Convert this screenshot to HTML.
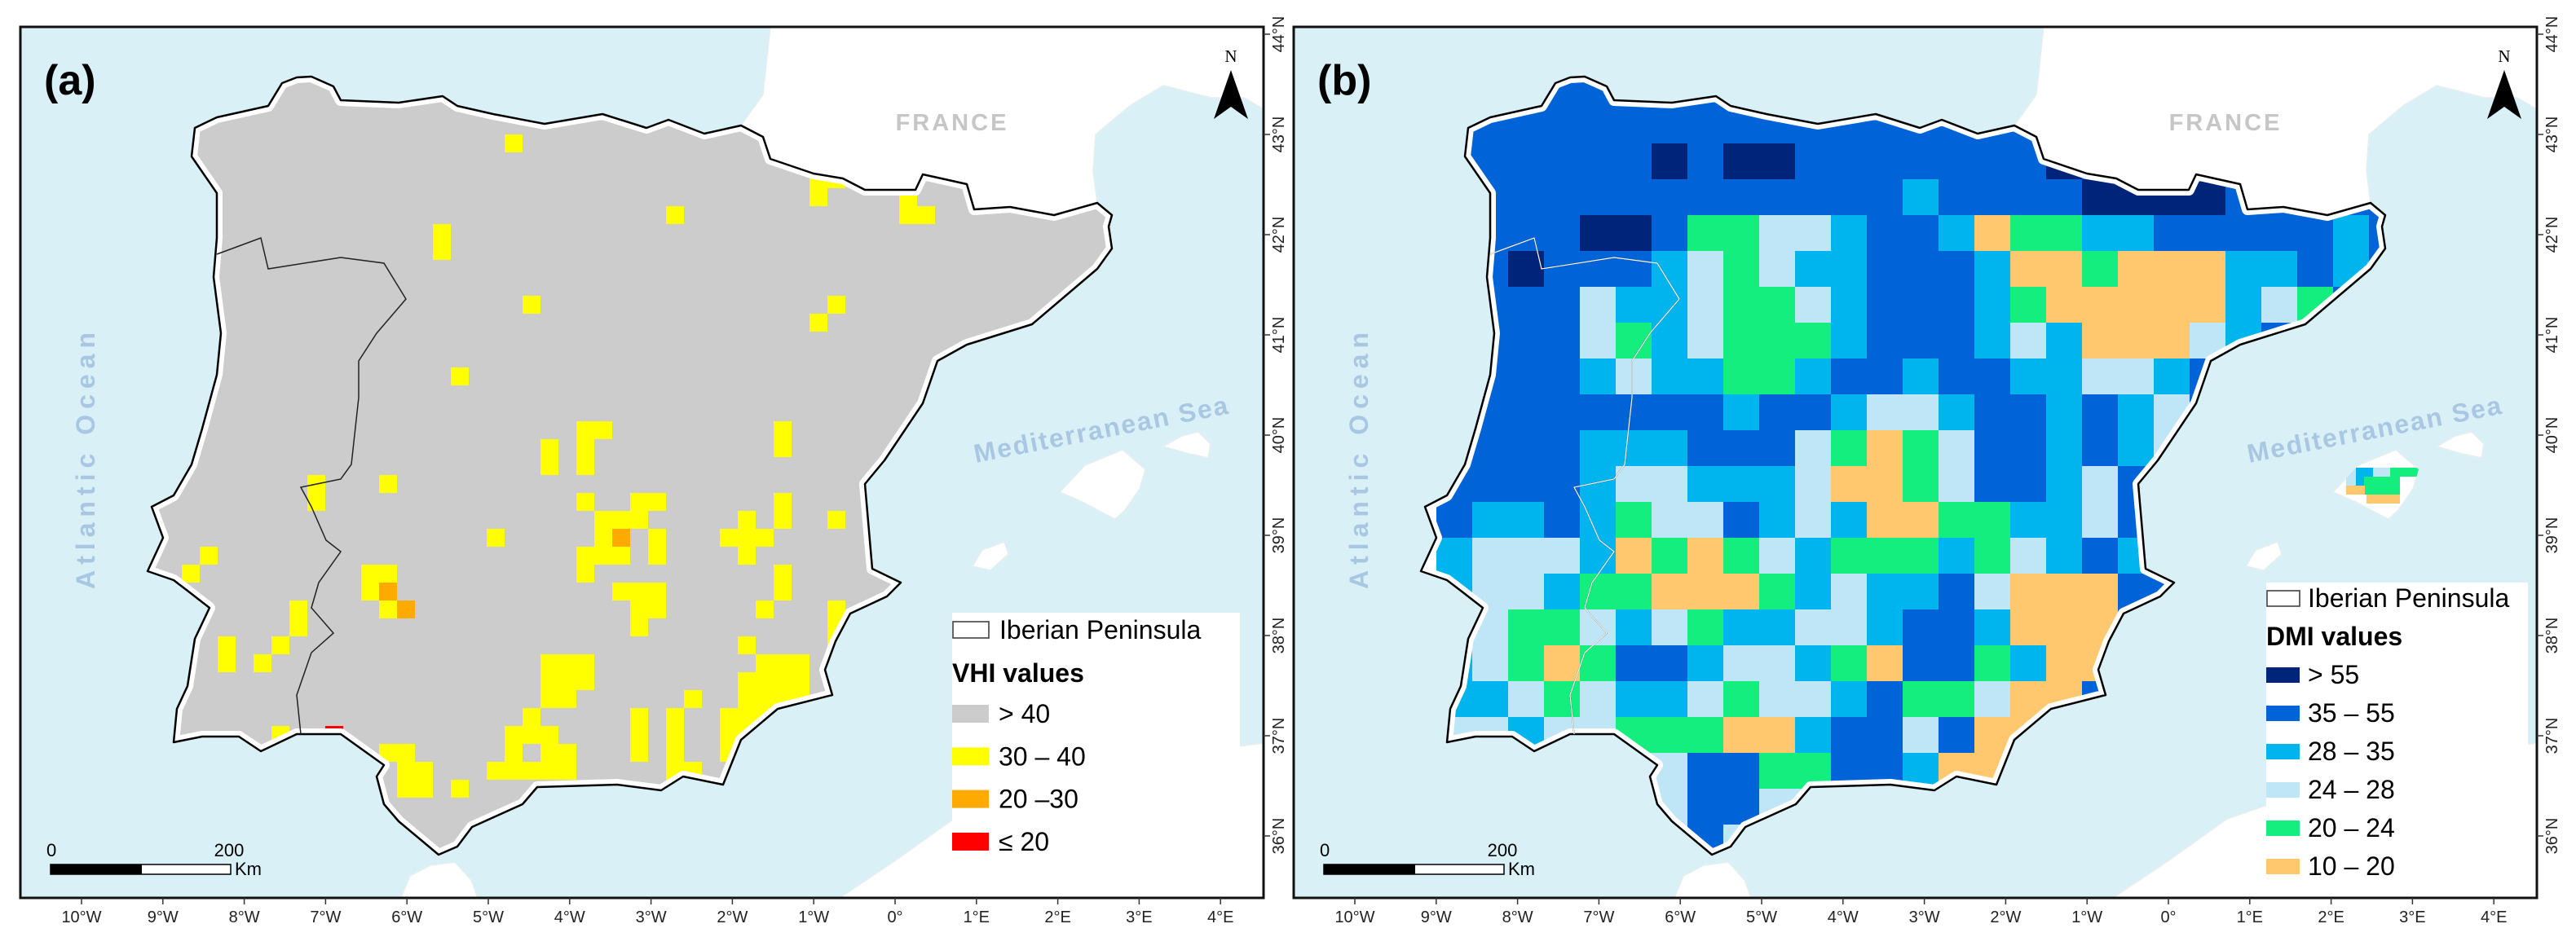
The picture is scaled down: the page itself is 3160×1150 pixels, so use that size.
<!DOCTYPE html>
<html><head><meta charset="utf-8"><title>VHI and DMI maps of the Iberian Peninsula</title>
<style>
html,body{margin:0;padding:0;background:#fff;}
svg{display:block;font-family:"Liberation Sans",Arial,sans-serif;}
</style></head>
<body>
<svg id="fig" width="3160" height="1150" viewBox="0 0 3160 1150" xmlns="http://www.w3.org/2000/svg">
<defs id="defs"></defs>
<g id="root"></g>
</svg>
<script>
// ---------- DATA ----------
const vhiYellow = [[16,25],[20,25],[16,26],[31,26],[34,26],[35,26],[34,27],[32,27],[33,27],[32,28],[26,28],[35,28],[35,29],[31,29],[32,29],[33,29],[40,27],[40,28],[40,29],[39,28],[41,28],[42,26],[42,27],[45,27],[10,29],[9,30],[19,30],[19,31],[20,30],[20,32],[31,30],[33,31],[34,31],[35,31],[34,32],[35,32],[34,33],[42,30],[42,31],[41,32],[15,32],[15,33],[11,34],[14,34],[13,35],[11,35],[45,32],[45,33],[46,33],[45,34],[46,34],[40,34],[41,35],[42,35],[43,35],[41,36],[42,36],[43,36],[40,36],[29,35],[30,35],[31,35],[29,36],[30,36],[31,36],[29,37],[30,37],[37,37],[40,37],[41,37],[42,37],[43,37],[40,38],[41,38],[28,38],[29,39],[27,39],[28,39],[34,38],[34,39],[34,40],[36,38],[36,39],[39,38],[39,39],[40,39],[39,40],[40,40],[14,39],[27,40],[26,41],[27,41],[28,41],[29,40],[30,40],[29,41],[30,41],[36,40],[37,41],[36,41],[41,42],[41,43],[20,40],[21,40],[21,41],[22,41],[21,42],[22,42],[24,42],[27,6],[23,11],[23,12],[36,10],[28,15],[45,15],[44,16],[24,19],[42,22],[42,23],[31,22],[32,22],[31,23],[29,23],[29,24],[31,24],[44,8],[45,8],[44,9],[49,9],[49,10],[50,10]];
const vhiOrange = [[20,31],[21,32],[33,28],[46,35]];
const vhiRed = [[17,39],[46,36]];
const dmiRows = [
"444444444444444444444444444",
"444444444444444444444444444",
"444444545544444445444444444",
"444444444444434444555544444",
"444455411223443011334444434",
"445444321233444300100033434",
"444423321123444310000032144",
"444421321113444323000234444",
"444432331134434433223444444",
"444444443443223443432444444",
"444433344421012443432444444",
"444432233320012443244444444",
"433431224323001133244444444",
"322230101231113123434444444",
"322311000132334200044444444",
"321123213322344300044444444",
"321014432231044130044444444",
"332123321223411200444444444",
"223221110034424004444444444",
"222222244114430044444444444",
"222222244222222222222222222",
"222222242222222222222222222"];
const vhiLegendLabels = ["> 40","30 \u2013 40","20 \u201330","\u2264 20"];
const dmiLegendLabels = ["> 55","35 \u2013 55","28 \u2013 35","24 \u2013 28","20 \u2013 24","10 \u2013 20"];
const lonTicks = ["10°W","9°W","8°W","7°W","6°W","5°W","4°W","3°W","2°W","1°W","0°","1°E","2°E","3°E","4°E"];
const lonValues = [-10,-9,-8,-7,-6,-5,-4,-3,-2,-1,0,1,2,3,4];
const latValues = [44,43,42,41,40,39,38,37,36];

// ---------- GEOMETRY ----------
const SEA="#d9f1f6";
const vhiColors={gray:"#cccccc",yellow:"#ffff00",orange:"#ffaa00",red:"#ff0000"};
const dmiColors=["#ffc76e","#14ee7e","#bfe6f7","#00b4ee","#0064d8","#00247a"];
const iberia=[[239,157],[266,144],[329,130],[346,102],[364,95],[382,94],[409,106],[418,123],[489,126],[543,118],[561,130],[605,140],[668,152],[739,140],[793,157],[820,147],[864,164],[909,154],[936,168],[945,195],[998,213],[1034,219],[1061,233],[1123,233],[1132,214],[1186,226],[1195,257],[1239,254],[1293,264],[1346,249],[1364,264],[1360,278],[1364,305],[1346,330],[1266,398],[1186,423],[1150,443],[1132,495],[1085,565],[1061,594],[1070,698],[1105,715],[1088,732],[1043,753],[1025,787],[1012,822],[1021,853],[954,870],[909,908],[887,963],[838,953],[811,970],[757,963],[659,966],[641,987],[579,1015],[561,1039],[538,1049],[489,1008],[471,987],[462,953],[471,939],[418,901],[364,901],[320,922],[293,904],[248,904],[213,911],[217,870],[230,842],[239,784],[257,746],[230,725],[213,712],[181,701],[200,660],[186,622],[213,608],[235,570],[248,526],[266,460],[271,409],[262,340],[266,292],[266,237],[235,192]];
const border=[[266,312],[320,292],[329,330],[418,316],[471,323],[498,367],[462,409],[440,443],[440,488],[431,570],[418,588],[369,598],[382,622],[400,663],[418,677],[391,715],[382,746],[409,777],[382,801],[364,853],[369,901]];
const france=[[945,33],[1550,33],[1550,134],[1526,120],[1486,120],[1427,105],[1387,129],[1344,165],[1341,210],[1346,249],[1293,264],[1239,254],[1195,257],[1186,226],[1132,214],[1123,233],[1061,233],[1034,219],[998,213],[945,195],[936,168],[909,154],[936,116]];
const africa=[[1030,1102],[1100,1055],[1170,1005],[1300,960],[1450,925],[1550,912],[1550,1102]];
const morocco=[[492,1102],[503,1075],[528,1062],[558,1058],[578,1080],[586,1102]];
const mallorca=[[1300,604],[1331,571],[1377,552],[1405,576],[1398,600],[1380,626],[1368,637],[1354,630],[1328,616]];
const menorca=[[1427,548],[1450,535],[1470,530],[1485,545],[1482,562],[1455,556]];
const ibiza=[[1193,695],[1205,675],[1232,665],[1237,680],[1215,700]];

const NS="http://www.w3.org/2000/svg";
const root=document.getElementById('root');
const defs=document.getElementById('defs');
function mk(tag,attrs,parent){const e=document.createElementNS(NS,tag);for(const k in attrs)e.setAttribute(k,attrs[k]);(parent||root).appendChild(e);return e;}
function pts(a){return a.map(p=>p[0]+","+p[1]).join(" ");}
const lonX=lon=>100+99.8*(lon+10);
const latY=lat=>42+(44-lat)*123;
const vcellX=c=>25+22*c, vcellY=r=>33+22*r;
const dcellX=c=>200+44*c, dcellY=r=>88+44*r;

function panel(id,ox,label){
  const g=mk('g',{transform:`translate(${ox},0)`});
  
  
  const cp=mk('clipPath',{id:id+'-frame-clip'},defs);
  mk('rect',{x:25,y:33,width:1525,height:1069},cp);
  const ip=mk('clipPath',{id:id+'-iberia-clip'},defs);
  mk('polygon',{points:pts(iberia)},ip);
  const inner=mk('g',{'clip-path':`url(#${id}-frame-clip)`},g);
  const sea=mk('rect',{x:25,y:33,width:1525,height:1069,fill:SEA},inner);
  
  
  [france,africa,morocco,mallorca,menorca,ibiza].forEach((p,i)=>{
    const e=mk('polygon',{points:pts(p),fill:'#fff',stroke:'#e6eef0','stroke-width':1.5},inner);
    
    
  });
  const land=mk('polygon',{points:pts(iberia),fill:'#fff'},inner);
  
  
  const cells=mk('g',{'clip-path':`url(#${id}-iberia-clip)`},inner);
  
  
  return {g,inner,cells};
}

function coastGap(cells){
  const e=mk('polygon',{points:pts(iberia),fill:'none',stroke:'#fff','stroke-width':14,'stroke-linejoin':'round'},cells);
  
  
}

function frameAndAxes(g,id){
  const f=mk('rect',{x:25,y:33,width:1525,height:1069,fill:'none',stroke:'#111','stroke-width':3},g);
  
  
  lonValues.forEach((v,i)=>{
    const x=lonX(v);
    mk('line',{x1:x,y1:1102,x2:x,y2:1110,stroke:'#333','stroke-width':1.5},g);
    const t=mk('text',{x:x,y:1132,'font-size':20,'text-anchor':'middle',fill:'#222'},g);
    t.textContent=lonTicks[i];
    
    
  });
  latValues.forEach(v=>{
    const y=latY(v);
    mk('line',{x1:1550,y1:y,x2:1558,y2:y,stroke:'#333','stroke-width':1.5},g);
    const t=mk('text',{x:0,y:0,'font-size':20,'text-anchor':'middle',fill:'#222',transform:`translate(1575,${y}) rotate(-90)`},g);
    t.textContent=v+"°N";
    
    
  });
}

function decorations(g,inner,label){
  const coast=mk('polygon',{points:pts(iberia),fill:'none',stroke:'#000','stroke-width':2.5,'stroke-linejoin':'round'},inner);
  
  
  const bd=mk('polyline',{points:pts(border),fill:'none',stroke:'#222','stroke-width':1.5},inner);
  
  
  const lab=mk('text',{x:54,y:116,'font-size':52,'font-weight':'bold',fill:'#000'},g);
  lab.textContent=label;
  
  
  const fr=mk('text',{x:1168,y:160,'font-size':29,'font-weight':'bold','text-anchor':'middle','letter-spacing':3,fill:'#c6c6c6'},g);
  fr.textContent="FRANCE";
  
  
  const at=mk('text',{x:0,y:0,'font-size':32,'font-weight':'bold','text-anchor':'middle','letter-spacing':7,fill:'#a9c7e3',transform:'translate(116,562) rotate(-90)'},g);
  at.textContent="Atlantic Ocean";
  
  
  const me=mk('text',{x:0,y:0,'font-size':32,'font-weight':'bold','letter-spacing':2,fill:'#a9c7e3',transform:'translate(1197,568) rotate(-11)'},g);
  me.textContent="Mediterranean Sea";
  
  
  const na=mk('g',{},g);
  
  
  const nt=mk('text',{x:1510,y:76,'font-size':21,'font-family':'Liberation Serif, serif','text-anchor':'middle'},na);
  nt.textContent="N";
  mk('polygon',{points:"1510,86 1489,146 1510,131 1531,146",fill:'#000'},na);
  const sb=mk('g',{},g);
  
  
  mk('rect',{x:62,y:1061,width:221,height:12,fill:'#fff',stroke:'#000','stroke-width':1.5},sb);
  mk('rect',{x:62,y:1061,width:112,height:12,fill:'#000'},sb);
  const s0=mk('text',{x:57,y:1051,'font-size':22},sb);s0.textContent="0";
  const s2=mk('text',{x:281,y:1051,'font-size':22,'text-anchor':'middle'},sb);s2.textContent="200";
  const sk=mk('text',{x:288,y:1074,'font-size':22},sb);sk.textContent="Km";
}

// ---------- Panel (a) VHI ----------
const A=panel('vhi',0,'(a)');
const gray=mk('polygon',{points:pts(iberia),fill:vhiColors.gray},A.cells);


[[vhiYellow,'yellow','vhi-30-40-cell'],[vhiOrange,'orange','vhi-20-30-cell'],[vhiRed,'red','vhi-below-20-cell']].forEach(([arr,col,nm])=>{
  arr.forEach(([c,r])=>{
    const e=mk('rect',{x:vcellX(c),y:vcellY(r),width:22,height:22,fill:vhiColors[col]},A.cells);
    
    
  });
});
coastGap(A.cells);
decorations(A.g,A.inner,'(a)');
(function(){
  const lg=mk('g',{},A.g);
  
  
  mk('rect',{x:1168,y:752,width:353,height:350,fill:'#fff'},lg);
  mk('rect',{x:1169,y:763,width:44,height:20,fill:'#fff',stroke:'#333','stroke-width':1.5},lg);
  const t=mk('text',{x:1226,y:784,'font-size':32},lg);t.textContent="Iberian Peninsula";
  const h=mk('text',{x:1168,y:837,'font-size':32,'font-weight':'bold'},lg);h.textContent="VHI values";
  const cols=[vhiColors.gray,vhiColors.yellow,vhiColors.orange,vhiColors.red];
  vhiLegendLabels.forEach((l,i)=>{
    const y=865+52.3*i;
    const sw=mk('rect',{x:1168,y:y,width:45,height:22,fill:cols[i]},lg);
    
    
    const tx=mk('text',{x:1225,y:y+22,'font-size':32},lg);tx.textContent=l;
  });
})();
frameAndAxes(A.g,'vhi');

// ---------- Panel (b) DMI ----------
const B=panel('dmi',1562,'(b)');
dmiRows.forEach((row,r)=>{
  for(let c=0;c<row.length;c++){
    const k=+row[c];
    const e=mk('rect',{x:dcellX(c),y:dcellY(r),width:44.5,height:44.5,fill:dmiColors[k]},B.cells);
    
    
  }
});
coastGap(B.cells);
(function(){
  const mp=mk('clipPath',{id:'mallorca-clip'},defs);
  mk('polygon',{points:pts(mallorca)},mp);
  const mg=mk('g',{'clip-path':'url(#mallorca-clip)'},B.inner);
  
  
  [[1316,574,12,22,2],[1328,574,21,22,3],[1349,574,21,22,2],[1370,574,35,11,1],[1338,585,44,22,1],[1316,596,23,11,0],[1341,607,41,11,0]].forEach(a=>{
    mk('rect',{x:a[0],y:a[1],width:a[2],height:a[3],fill:dmiColors[a[4]]},mg);
  });
})();
decorations(B.g,B.inner,'(b)');
(function(){
  const bd=mk('polyline',{points:pts(border),fill:'none',stroke:'#fff','stroke-width':1.2},B.inner);
  
  
})();
(function(){
  const lg=mk('g',{},B.g);
  
  
  mk('rect',{x:1218,y:715,width:321,height:387,fill:'#fff'},lg);
  mk('rect',{x:1219,y:725,width:40,height:19,fill:'#fff',stroke:'#333','stroke-width':1.5},lg);
  const t=mk('text',{x:1269,y:745,'font-size':32},lg);t.textContent="Iberian Peninsula";
  const h=mk('text',{x:1218,y:792,'font-size':32,'font-weight':'bold'},lg);h.textContent="DMI values";
  const order=[5,4,3,2,1,0];
  dmiLegendLabels.forEach((l,i)=>{
    const y=819+47*i;
    const sw=mk('rect',{x:1218,y:y,width:41,height:19,fill:dmiColors[order[i]]},lg);
    
    
    const tx=mk('text',{x:1269,y:y+20,'font-size':32},lg);tx.textContent=l;
  });
})();
frameAndAxes(B.g,'dmi');
</script>
</body></html>
